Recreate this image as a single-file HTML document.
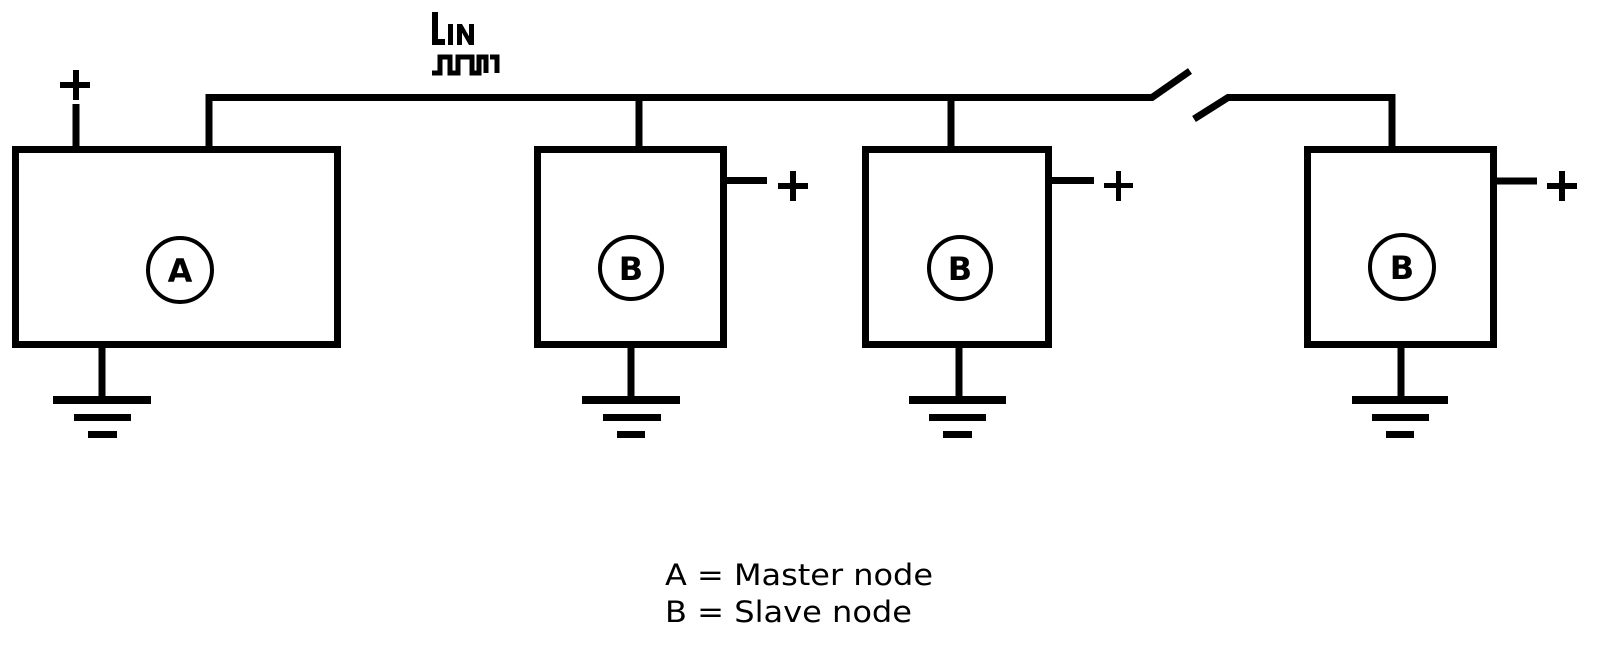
<!DOCTYPE html>
<html><head><meta charset="utf-8"><style>
html,body{margin:0;padding:0;background:#fff;}
svg{display:block;}
</style></head><body>
<svg width="1600" height="648" viewBox="0 0 1600 648" xmlns="http://www.w3.org/2000/svg">
<g fill="none" stroke="#000" stroke-width="7">
  <rect x="15.5" y="149.5" width="322" height="195"/>
  <rect x="537.5" y="149.5" width="186" height="195"/>
  <rect x="865.5" y="149.5" width="183" height="195"/>
  <rect x="1307.5" y="149.5" width="186" height="195"/>
  <path d="M209,146 V97.5 H1152 L1190,71"/>
  <path d="M1194,119 L1228,97.5 H1392 V146"/>
  <path d="M639,97 V146 M951,97 V146"/>
  <path d="M76,104 V146"/>
  <path d="M102,348 V400 M631,348 V400 M959,348 V400 M1401,348 V400"/>
  <path d="M727,180.5 H767 M1052,180.5 H1094 M1497,181 H1537"/>
</g>
<g fill="#000">
  <rect x="53" y="396" width="98" height="8"/><rect x="74" y="414" width="57" height="7"/><rect x="88" y="431" width="29" height="7"/>
  <rect x="582" y="396" width="98" height="8"/><rect x="603" y="414" width="58" height="7"/><rect x="617" y="431" width="28" height="7"/>
  <rect x="909" y="396" width="97" height="8"/><rect x="929" y="414" width="57" height="7"/><rect x="943" y="431" width="29" height="7"/>
  <rect x="1352" y="396" width="96" height="8"/><rect x="1372" y="414" width="57" height="7"/><rect x="1386" y="431" width="28" height="7"/>
  <rect x="60" y="82" width="30" height="6"/><rect x="73" y="70" width="6" height="30"/>
  <rect x="778" y="183" width="30" height="6"/><rect x="790" y="171" width="6" height="30"/>
  <rect x="1104" y="183" width="29" height="5"/><rect x="1116" y="171" width="5" height="30"/>
  <rect x="1547" y="183" width="30" height="6"/><rect x="1559" y="171" width="6" height="30"/>
  <rect x="432" y="12" width="6" height="33"/><rect x="432" y="39" width="13" height="6"/>
  <rect x="448" y="24" width="5" height="21"/>
  <rect x="457" y="24" width="5" height="21"/><rect x="469" y="24" width="5" height="21"/>
  <polygon points="457,24 462,24 474,45 469,45"/>
</g>
<path d="M432,73 H440 V57 H450 V73 H458 V57 H472 V73 H479 V57 H486 V73" fill="none" stroke="#000" stroke-width="5"/>
<path d="M490,57 H497 V73" fill="none" stroke="#000" stroke-width="5"/>
<g fill="none" stroke="#000" stroke-width="4">
  <circle cx="180" cy="270" r="32"/>
  <circle cx="631" cy="268" r="31"/>
  <circle cx="960" cy="268" r="31"/>
  <circle cx="1402" cy="267" r="32"/>
</g>
<g font-family="DejaVu Sans, Liberation Sans, sans-serif" font-weight="bold" font-size="32" text-anchor="middle" fill="#000">
  <text x="180" y="282">A</text>
  <text x="631" y="280">B</text>
  <text x="960" y="280">B</text>
  <text x="1402" y="279">B</text>
</g>
<g font-family="DejaVu Sans, Liberation Sans, sans-serif" font-size="29" fill="#000">
  <text x="665" y="585" textLength="268" lengthAdjust="spacingAndGlyphs">A = Master node</text>
  <text x="665" y="622" textLength="247" lengthAdjust="spacingAndGlyphs">B = Slave node</text>
</g>
</svg>
</body></html>
